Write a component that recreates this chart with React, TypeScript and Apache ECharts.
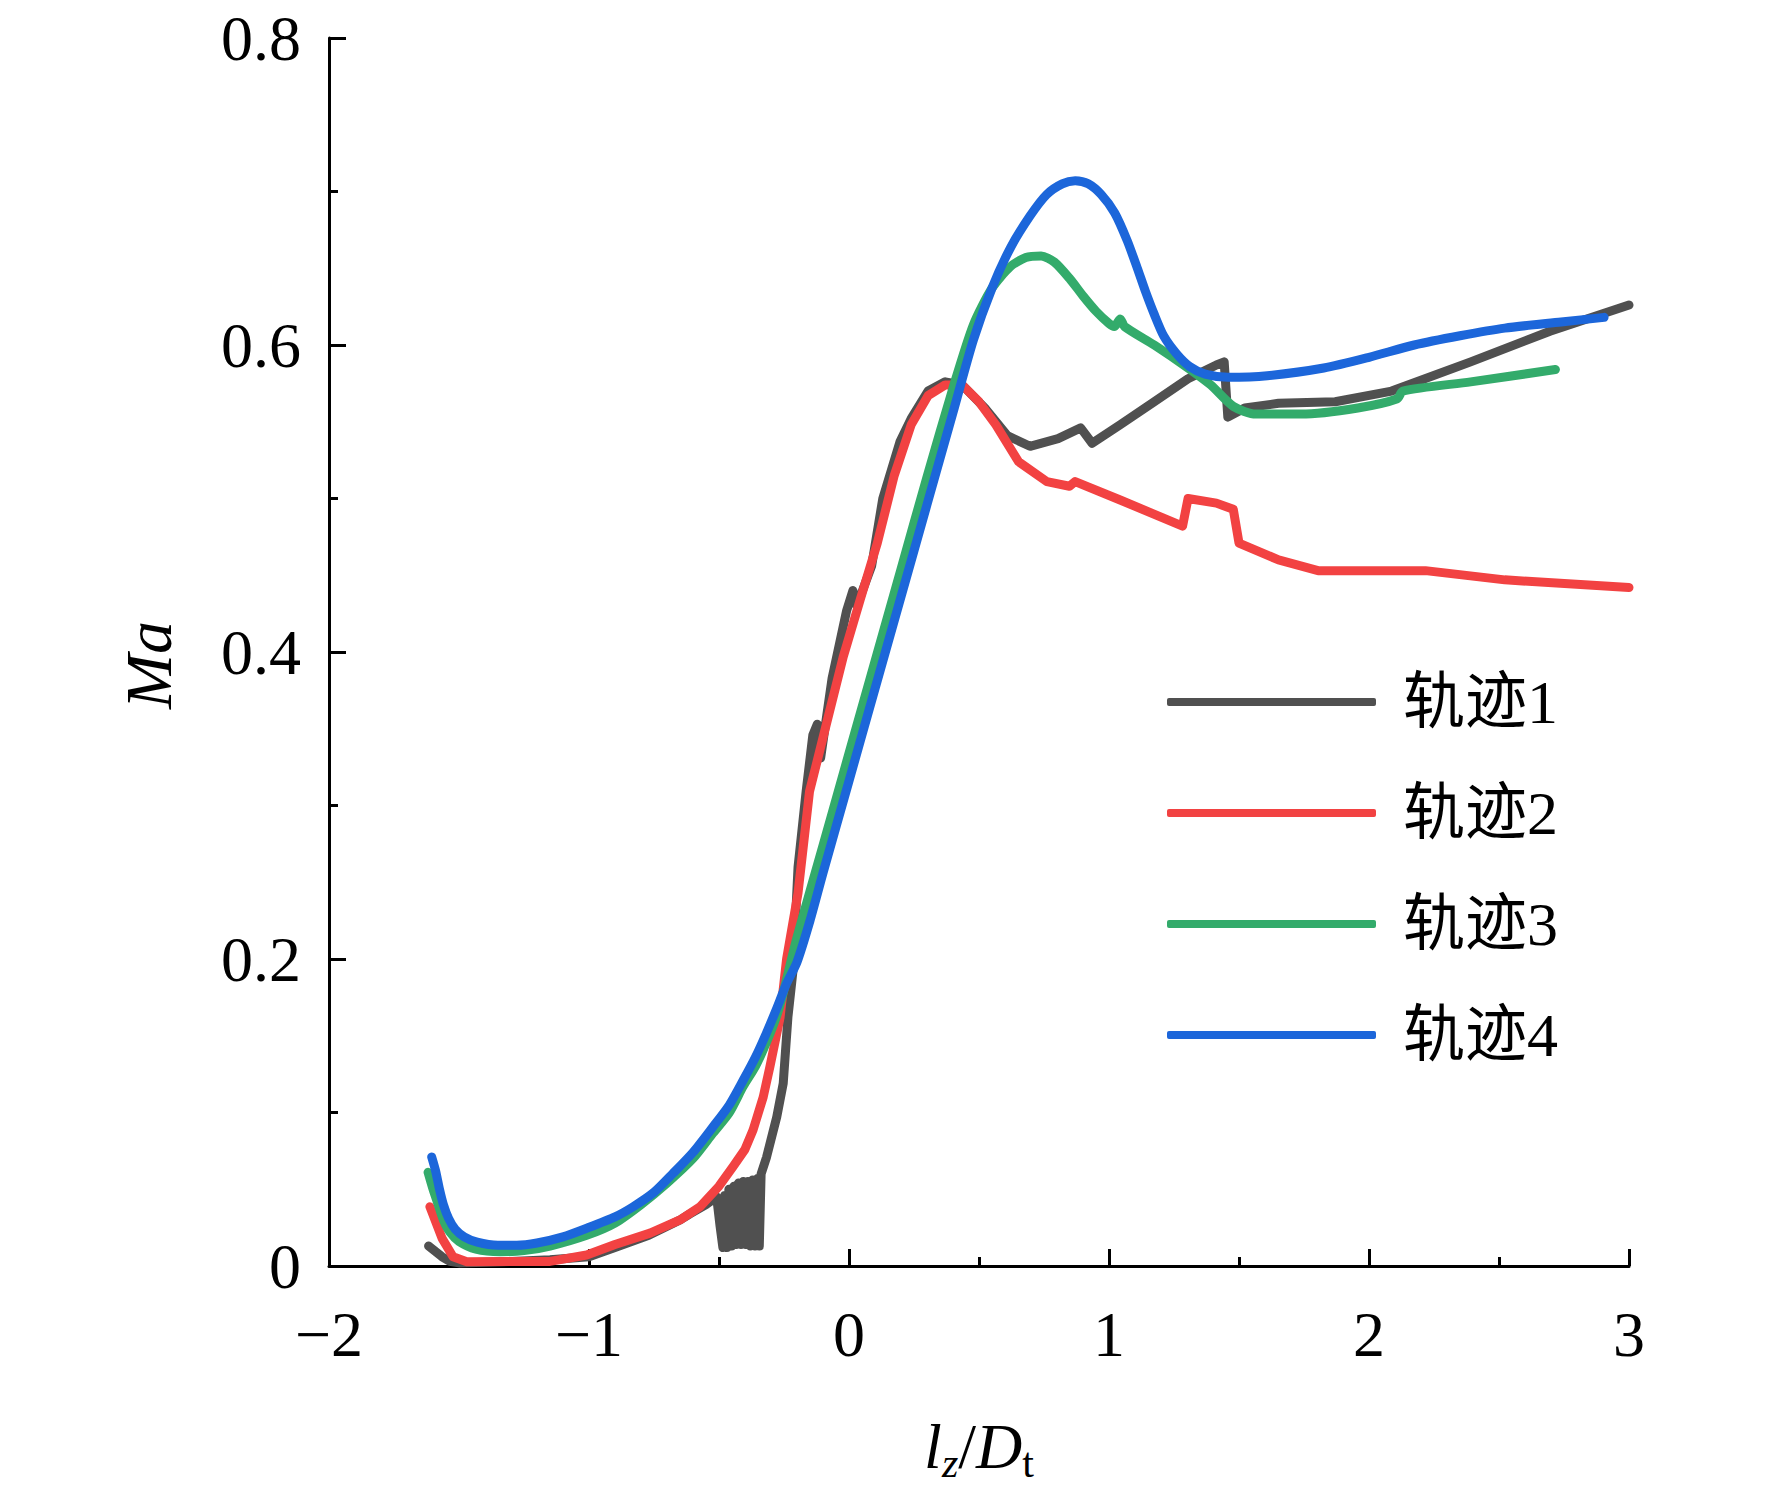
import { useEffect, useRef } from "react";
import * as echarts from "echarts";

const SERIES_NAMES = ["轨迹1", "轨迹2", "轨迹3", "轨迹4"];
const COLORS = ["#505050", "#f24242", "#33ab6b", "#1c66da"];

// 轨迹1: gray, noisy
const track1: [number, number][] = [
  [-1.617, 0.013], [-1.565, 0.006], [-1.535, 0.003], [-1.5, 0.002], [-1.3, 0.003],
  [-1.15, 0.004], [-1.0, 0.006], [-0.9, 0.012], [-0.77, 0.02], [-0.65, 0.03],
  [-0.612, 0.034], [-0.55, 0.04], [-0.509, 0.045], [-0.496, 0.026], [-0.485, 0.012],
  [-0.478, 0.046], [-0.47, 0.012], [-0.462, 0.05], [-0.452, 0.013], [-0.443, 0.052],
  [-0.434, 0.014], [-0.425, 0.054], [-0.416, 0.014], [-0.407, 0.055], [-0.398, 0.014],
  [-0.389, 0.055], [-0.38, 0.013], [-0.371, 0.056], [-0.362, 0.013], [-0.352, 0.057],
  [-0.345, 0.013], [-0.338, 0.06], [-0.317, 0.071], [-0.278, 0.097], [-0.253, 0.119],
  [-0.235, 0.162], [-0.215, 0.193], [-0.196, 0.26], [-0.165, 0.309], [-0.139, 0.346],
  [-0.122, 0.353], [-0.109, 0.331], [-0.065, 0.383], [-0.009, 0.427], [0.015, 0.44],
  [0.03, 0.43], [0.087, 0.456], [0.13, 0.5], [0.196, 0.537], [0.239, 0.552],
  [0.304, 0.57], [0.37, 0.576], [0.435, 0.574], [0.522, 0.559], [0.609, 0.541],
  [0.696, 0.534], [0.804, 0.539], [0.891, 0.546], [0.935, 0.536], [1.043, 0.548],
  [1.174, 0.563], [1.304, 0.578], [1.413, 0.587], [1.443, 0.589], [1.457, 0.553],
  [1.522, 0.559], [1.652, 0.562], [1.87, 0.563], [2.087, 0.57], [2.391, 0.589],
  [2.696, 0.609], [3.0, 0.626],
];

// 轨迹2: red
const track2: [number, number][] = [
  [-1.612, 0.0386], [-1.565, 0.018], [-1.523, 0.006], [-1.47, 0.0028], [-1.3, 0.003],
  [-1.15, 0.003], [-1.009, 0.0072], [-0.9, 0.014], [-0.765, 0.0214], [-0.65, 0.03],
  [-0.573, 0.0386], [-0.5, 0.052], [-0.446, 0.0647], [-0.4, 0.076], [-0.369, 0.0886],
  [-0.33, 0.11], [-0.304, 0.13], [-0.265, 0.162], [-0.24, 0.2], [-0.196, 0.243],
  [-0.152, 0.309], [-0.087, 0.353], [-0.022, 0.397], [0.043, 0.434], [0.109, 0.471],
  [0.174, 0.515], [0.239, 0.548], [0.304, 0.567], [0.37, 0.574], [0.435, 0.574],
  [0.5, 0.563], [0.565, 0.548], [0.652, 0.524], [0.761, 0.511], [0.848, 0.508],
  [0.87, 0.511], [1.043, 0.499], [1.283, 0.482], [1.304, 0.5], [1.413, 0.497],
  [1.478, 0.493], [1.5, 0.471], [1.652, 0.46], [1.804, 0.453], [1.957, 0.453],
  [2.217, 0.453], [2.522, 0.447], [3.0, 0.442],
];

// 轨迹3: green
const track3: [number, number][] = [
  [-1.619, 0.061], [-1.6, 0.05], [-1.58, 0.04], [-1.56, 0.03], [-1.535, 0.022],
  [-1.5, 0.016], [-1.435, 0.011], [-1.342, 0.0093], [-1.25, 0.01], [-1.15, 0.013],
  [-1.009, 0.02], [-0.9, 0.028], [-0.8, 0.04], [-0.7, 0.054], [-0.6, 0.07],
  [-0.523, 0.0866], [-0.46, 0.1], [-0.407, 0.117], [-0.36, 0.13], [-0.317, 0.146],
  [-0.28, 0.162], [-0.253, 0.178], [-0.2, 0.214], [-0.1, 0.274], [0.0, 0.334],
  [0.1, 0.394], [0.2, 0.454], [0.3, 0.514], [0.4, 0.572], [0.478, 0.613],
  [0.55, 0.637], [0.62, 0.651], [0.68, 0.657], [0.739, 0.658], [0.79, 0.654],
  [0.85, 0.643], [0.9, 0.632], [0.95, 0.622], [1.0, 0.614], [1.02, 0.612],
  [1.043, 0.617], [1.06, 0.612], [1.174, 0.6], [1.304, 0.585], [1.391, 0.574],
  [1.478, 0.56], [1.565, 0.555], [1.739, 0.555], [1.957, 0.559], [2.109, 0.565],
  [2.13, 0.57], [2.391, 0.576], [2.717, 0.584],
];

// 轨迹4: blue
const track4: [number, number][] = [
  [-1.605, 0.071], [-1.59, 0.062], [-1.575, 0.05], [-1.56, 0.04], [-1.54, 0.031],
  [-1.515, 0.024], [-1.48, 0.019], [-1.43, 0.0155], [-1.35, 0.0135], [-1.278, 0.0135],
  [-1.2, 0.015], [-1.1, 0.019], [-1.009, 0.0246], [-0.9, 0.032], [-0.83, 0.0386],
  [-0.75, 0.048], [-0.677, 0.0603], [-0.6, 0.074], [-0.523, 0.0907], [-0.46, 0.105],
  [-0.407, 0.121], [-0.36, 0.136], [-0.317, 0.152], [-0.28, 0.167], [-0.24, 0.184],
  [-0.2, 0.198], [-0.15, 0.225], [-0.1, 0.256], [0.0, 0.316], [0.1, 0.376],
  [0.2, 0.436], [0.3, 0.496], [0.4, 0.556], [0.478, 0.603], [0.55, 0.637],
  [0.62, 0.663], [0.696, 0.684], [0.76, 0.698], [0.82, 0.705], [0.87, 0.707],
  [0.92, 0.705], [0.97, 0.698], [1.022, 0.686], [1.07, 0.668], [1.109, 0.65],
  [1.14, 0.635], [1.174, 0.62], [1.21, 0.606], [1.261, 0.594], [1.31, 0.586],
  [1.37, 0.581], [1.457, 0.579], [1.609, 0.58], [1.826, 0.585], [2.0, 0.592],
  [2.174, 0.6], [2.35, 0.606], [2.522, 0.611], [2.739, 0.615], [2.904, 0.618],
];

const TRACKS = [track1, track2, track3, track4];
const SMOOTH = [false, false, 0.25, 0.25];

const X_TICKS = { min: -2, max: 3, interval: 1 };
const Y_TICKS = { min: 0, max: 0.8, interval: 0.2 };

const SERIF = "Liberation Serif, Times New Roman, serif";
const LEGEND_FONT = "Liberation Serif, Noto Sans CJK SC, serif";

export default function App() {
  const ref = useRef<HTMLDivElement | null>(null);

  useEffect(() => {
    const el = ref.current!;
    const chart = echarts.init(el, undefined, { renderer: "svg" });

    const axisLine = { show: true, onZero: false, lineStyle: { color: "#000", width: 3 } };
    const tick = { inside: true, length: 17, lineStyle: { color: "#000", width: 3 } };
    const minor = { show: true, splitNumber: 2, length: 9, lineStyle: { color: "#000", width: 3 } };

    chart.setOption({
      animation: false,
      backgroundColor: "#fff",
      grid: { left: 329, top: 38, width: 1300, height: 1228 },
      legend: {
        orient: "vertical",
        left: 1167,
        top: 671,
        padding: 0,
        itemWidth: 209,
        itemHeight: 8,
        itemGap: 49,
        icon: "roundRect",
        data: SERIES_NAMES,
        textStyle: {
          fontFamily: LEGEND_FONT,
          fontSize: 62,
          lineHeight: 62,
          color: "#000",
          padding: [0, 0, 0, 22],
        },
      },
      xAxis: {
        type: "value",
        ...X_TICKS,
        axisLine,
        splitLine: { show: false },
        axisTick: tick,
        minorTick: minor,
        axisLabel: {
          margin: 36,
          fontFamily: SERIF,
          fontSize: 64,
          color: "#000",
          formatter: (v: number) => String(v).replace("-", "\u2212"),
        },
        name: "{i|l}{isub|z}{n|/}{i|D}{sub|t}",
        nameLocation: "middle",
        nameGap: 145,
        nameTextStyle: {
          rich: {
            i: { fontFamily: SERIF, fontStyle: "italic", fontSize: 64, lineHeight: 70, color: "#000" },
            n: { fontFamily: SERIF, fontSize: 64, lineHeight: 70, color: "#000" },
            isub: { fontFamily: SERIF, fontStyle: "italic", fontSize: 42, lineHeight: 42, padding: [34, 0, 0, 0], color: "#000" },
            sub: { fontFamily: SERIF, fontSize: 42, lineHeight: 42, padding: [34, 0, 0, 0], color: "#000" },
          },
        },
      },
      yAxis: {
        type: "value",
        ...Y_TICKS,
        axisLine,
        splitLine: { show: false },
        axisTick: tick,
        minorTick: minor,
        axisLabel: {
          margin: 28,
          fontFamily: SERIF,
          fontSize: 64,
          color: "#000",
        },
        name: "Ma",
        nameLocation: "middle",
        nameGap: 148,
        nameTextStyle: {
          fontFamily: SERIF,
          fontStyle: "italic",
          fontSize: 66,
          color: "#000",
          padding: [0, 26, 0, 0],
        },
      },
      series: TRACKS.map((data, i) => ({
        type: "line",
        name: SERIES_NAMES[i],
        data,
        smooth: SMOOTH[i],
        showSymbol: false,
        symbol: "none",
        color: COLORS[i],
        lineStyle: { width: 9, color: COLORS[i], cap: "round", join: "round" },
      })),
    });

    return () => chart.dispose();
  }, []);

  return (
    <div
      ref={ref}
      style={{ position: "fixed", left: 0, top: 0, width: 1772, height: 1496 }}
    />
  );
}
